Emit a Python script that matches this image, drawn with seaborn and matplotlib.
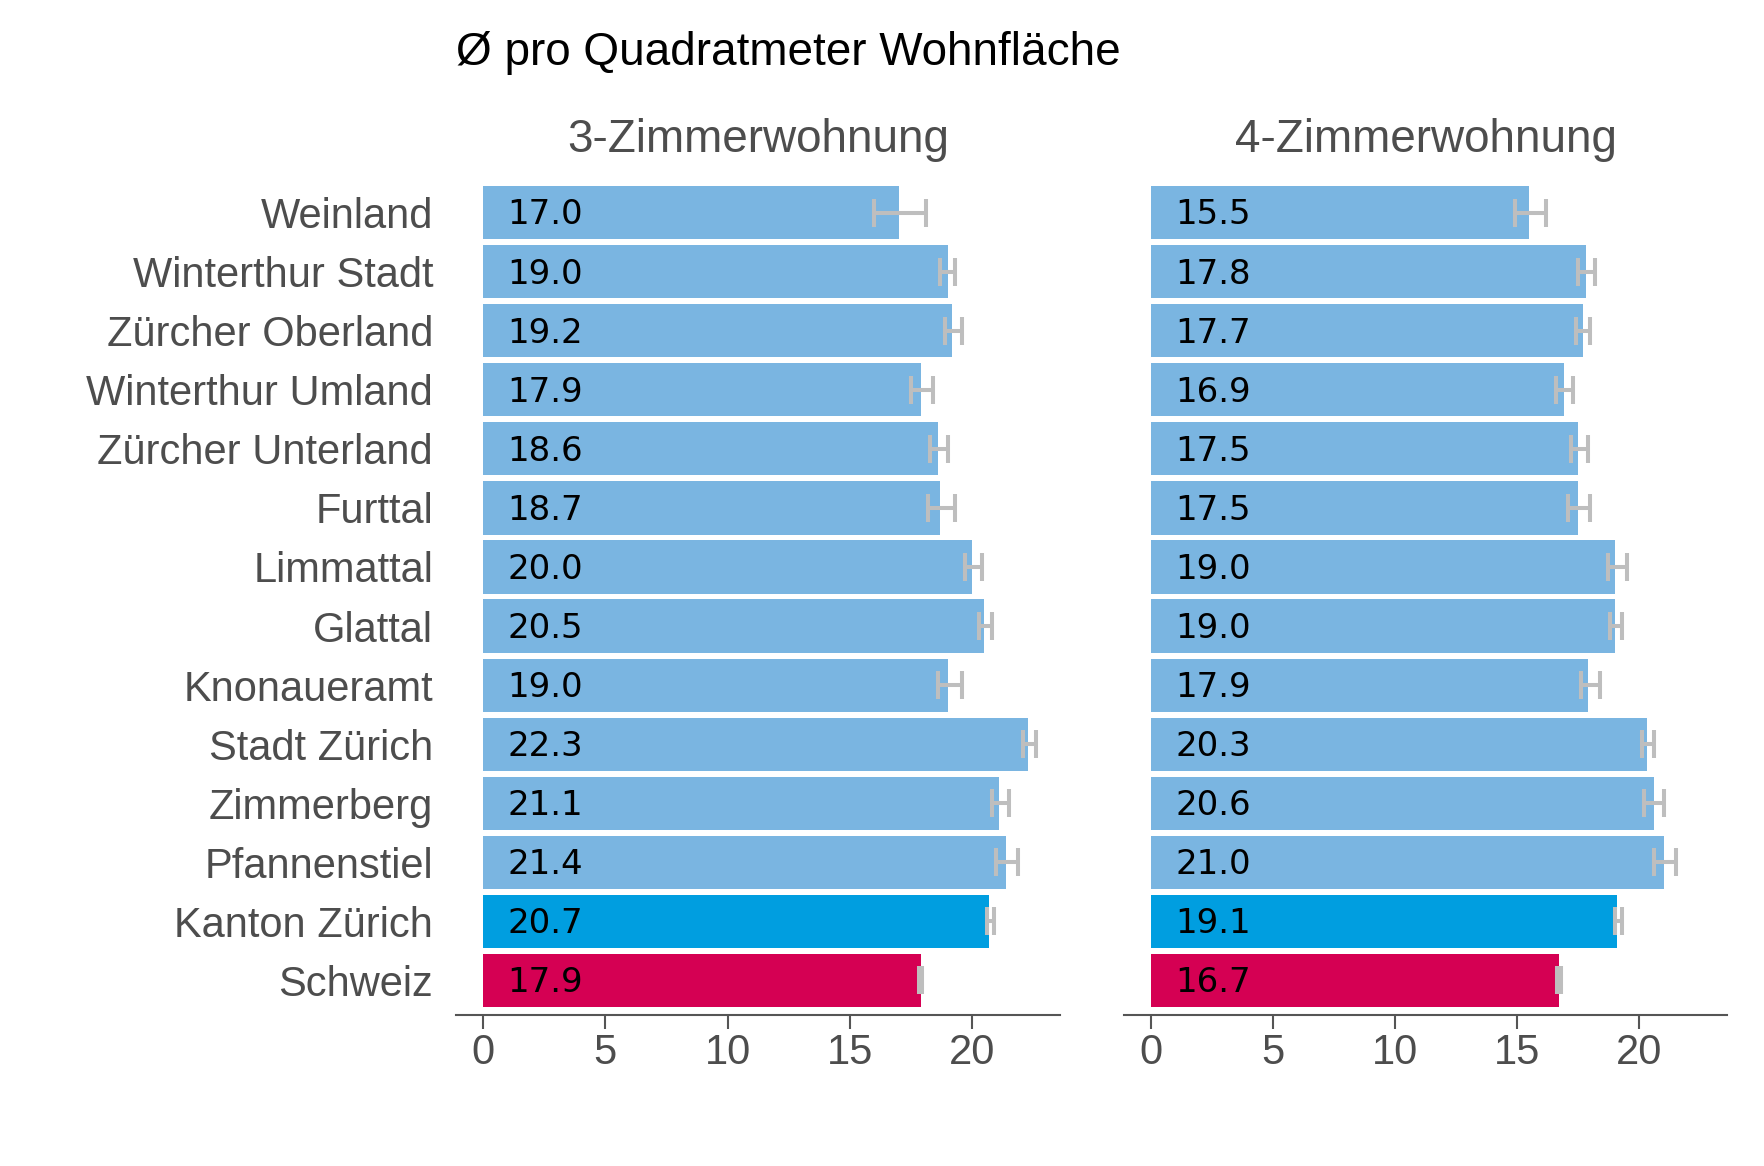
import numpy as np
import pandas as pd
import seaborn as sns
import matplotlib.pyplot as plt

sns.set_style('white')
plt.rcParams['font.family'] = ['Liberation Sans', 'DejaVu Sans']

regions = ['Weinland', 'Winterthur Stadt', 'Zürcher Oberland', 'Winterthur Umland',
           'Zürcher Unterland', 'Furttal', 'Limmattal', 'Glattal', 'Knonaueramt',
           'Stadt Zürich', 'Zimmerberg', 'Pfannenstiel', 'Kanton Zürich', 'Schweiz']

# 3-Zimmerwohnung
val3 = [17.0, 19.0, 19.2, 17.9, 18.6, 18.7, 20.0, 20.5, 19.0, 22.3, 21.1, 21.4, 20.7, 17.9]
low3 = [16.0, 18.7, 18.9, 17.5, 18.3, 18.2, 19.7, 20.3, 18.6, 22.1, 20.8, 21.0, 20.6, 17.83]
high3 = [18.1, 19.3, 19.6, 18.4, 19.0, 19.3, 20.4, 20.8, 19.6, 22.6, 21.5, 21.9, 20.9, 17.95]

# 4-Zimmerwohnung
val4 = [15.5, 17.8, 17.7, 16.9, 17.5, 17.5, 19.0, 19.0, 17.9, 20.3, 20.6, 21.0, 19.1, 16.7]
low4 = [14.9, 17.5, 17.4, 16.6, 17.2, 17.1, 18.7, 18.8, 17.6, 20.1, 20.2, 20.6, 19.0, 16.65]
high4 = [16.2, 18.2, 18.0, 17.3, 17.9, 18.0, 19.5, 19.3, 18.4, 20.6, 21.0, 21.5, 19.3, 16.8]

panel_titles = ['3-Zimmerwohnung', '4-Zimmerwohnung']
x_ticks = [0, 5, 10, 15, 20]

light_blue = '#7ab5e1'
palette = {r: light_blue for r in regions}
palette['Kanton Zürich'] = '#009ee0'
palette['Schweiz'] = '#d50053'

grey_text = '#4d4d4d'

fig = plt.figure(figsize=(17.65, 11.66), dpi=100)
ax1 = fig.add_axes([0.2584, 0.1295, 0.3422, 0.7178])
ax2 = fig.add_axes([0.6368, 0.1295, 0.3418, 0.7178])

panels = [(ax1, val3, low3, high3), (ax2, val4, low4, high4)]
for i, (ax, vals, lows, highs) in enumerate(panels):
    df = pd.DataFrame({'region': regions, 'value': vals})
    sns.barplot(data=df, x='value', y='region', hue='region', palette=palette,
                orient='h', width=0.9, linewidth=0, saturation=1, legend=False, ax=ax)
    vals = np.array(vals)
    xerr = np.vstack([vals - np.array(lows), np.array(highs) - vals])
    ax.errorbar(vals, np.arange(len(regions)), xerr=xerr, fmt='none',
                ecolor='#bebebe', elinewidth=2.9, capsize=10.4, capthick=2.9, zorder=3)
    for y, v in enumerate(vals):
        ax.text(1.0, y + 0.04, f'{v:.1f}', ha='left', va='center', fontsize=24.5,
                family='DejaVu Sans', color='black', zorder=4)

    ax.set_xlim(-1.1, 23.6)
    ax.set_ylim(13.585, -0.585)
    ax.set_xticks(x_ticks)
    ax.set_xlabel('')
    ax.set_ylabel('')
    for s in ['top', 'right', 'left']:
        ax.spines[s].set_visible(False)
    ax.spines['bottom'].set_color('#555555')
    ax.spines['bottom'].set_linewidth(1.5)
    ax.tick_params(axis='x', length=10, width=1.5, color='#555555', labelsize=30,
                   labelcolor=grey_text, pad=3, bottom=True)
    ax.tick_params(axis='y', length=0, labelsize=30, labelcolor=grey_text, pad=16.6)
    if i == 1:
        ax.set_yticklabels([])
    ax.text(0.5, 1.046, panel_titles[i], transform=ax.transAxes, ha='center',
            va='center', fontsize=33, color=grey_text)

fig.text(0.2584, 0.9545, 'Ø pro Quadratmeter Wohnfläche', ha='left', va='center',
         fontsize=33, color='black')

fig.savefig('out.png', dpi=100)
